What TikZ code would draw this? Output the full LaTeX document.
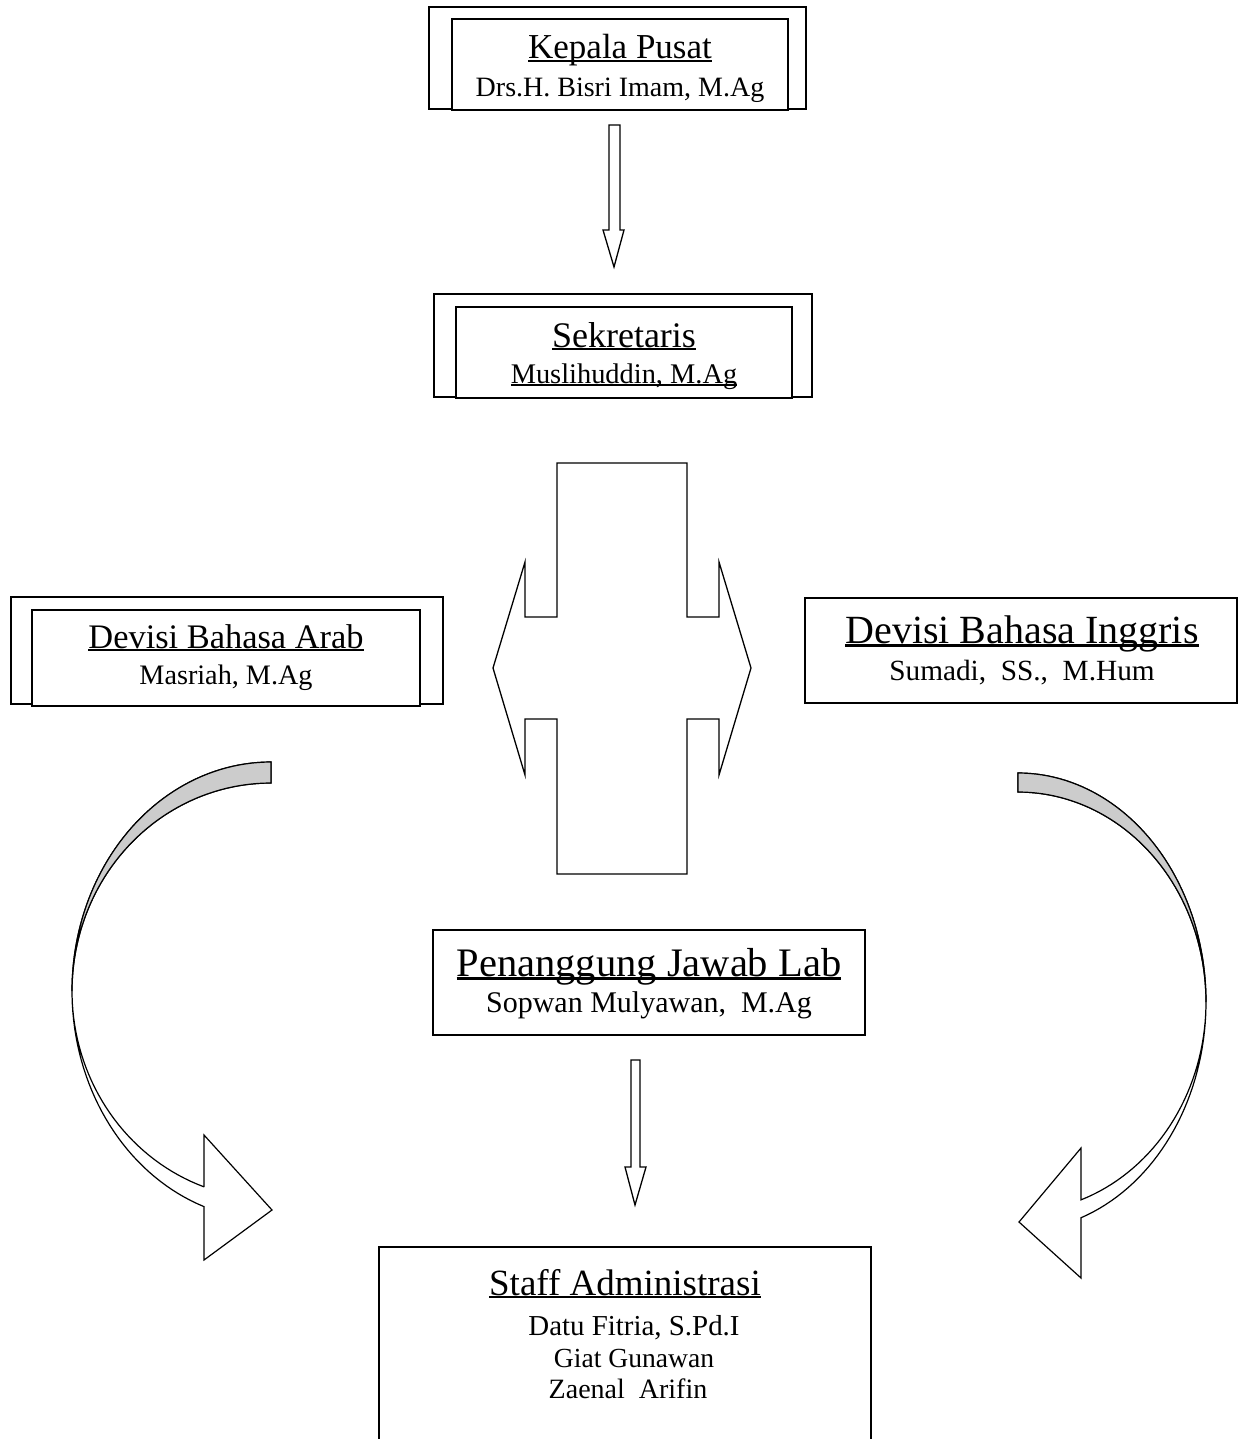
\documentclass[tikz,border=0pt]{standalone}
\usepackage{fontspec}
\setmainfont{Liberation Serif}

\tikzset{
  frame/.style={draw, line width=1.5pt, fill=white},
  blockarrow/.style={draw, line width=1.3pt, fill=white, line join=miter},
  bandline/.style={draw, line width=1.2pt, line join=miter},
  titletext/.style={anchor=base, inner sep=0pt},
  persontext/.style={anchor=base, inner sep=0pt},
}
\newcommand\ulbox[1]{\setbox0\hbox{#1}\rlap{\rule[-0.09em]{\wd0}{0.055em}}\box0}
\newcommand\fs[1]{\fontsize{#1}{#1}\selectfont}

\begin{document}
\begin{tikzpicture}[x=1pt,y=-1pt]
  \clip (0,0) rectangle (1241,1439);
  \fill[white] (0,0) rectangle (1241,1439);

  % kepala pusat
  \draw[frame] (429,7) rectangle (806,109);
  \draw[frame] (452,19) rectangle (788,110);
  \node[titletext] (kepT) at (620,59) {\fs{35}\ulbox{Kepala Pusat}};
  \node[persontext] (kepN) at (620,97) {\fs{28}Drs.H. Bisri Imam, M.Ag};

  \draw[blockarrow] (609,125) -- (620,125) -- (620,230) -- (624,230)
    -- (614,267) -- (603,230) -- (609,230) -- cycle;

  % sekretaris
  \draw[frame] (434,294) rectangle (812,397);
  \draw[frame] (456,307) rectangle (792,398);
  \node[titletext] (sekT) at (624,347) {\fs{36}\ulbox{Sekretaris}};
  \node[persontext] (sekN) at (624,383) {\fs{28.4}\ulbox{Muslihuddin, M.Ag}};

  % cross arrow
  \draw[blockarrow] (557,463) -- (687,463) -- (687,617) -- (719,617) -- (719,562)
    -- (751,668) -- (719,775) -- (719,719) -- (687,719) -- (687,874) -- (557,874)
    -- (557,719) -- (525,719) -- (525,775) -- (493,668) -- (525,562) -- (525,617)
    -- (557,617) -- cycle;

  % devisi bahasa arab
  \draw[frame] (11,597) rectangle (443,704);
  \draw[frame] (32,610) rectangle (420,706);
  \node[titletext] (arabT) at (226,648) {\fs{34.4}\ulbox{Devisi Bahasa Arab}};
  \node[persontext] (arabN) at (226,684) {\fs{28.2}Masriah, M.Ag};

  % devisi bahasa inggris
  \draw[frame] (805,598) rectangle (1237,703);
  \node[titletext] (ingT) at (1022,643) {\fs{40}\ulbox{Devisi Bahasa Inggris}};
  \node[persontext] (ingN) at (1022,680) {\fs{29.3}Sumadi,\ \ SS.,\ \ M.Hum};

  % penanggung jawab
  \draw[frame] (433,930) rectangle (865,1035);
  \node[titletext] (pjT) at (649,976) {\fs{40.5}\ulbox{Penanggung Jawab Lab}};
  \node[persontext] (pjN) at (649,1012) {\fs{30}Sopwan Mulyawan,\ \ M.Ag};

  \draw[blockarrow] (631,1060) -- (640,1060) -- (640,1167) -- (646,1167)
    -- (635,1205) -- (625,1167) -- (631,1167) -- cycle;

  % staff administrasi
  \draw[frame] (379,1247) rectangle (871,1460);
  \node[titletext] (stT) at (625,1295) {\fs{37}\ulbox{Staff Administrasi}};
  \node[persontext] (st1) at (634,1335) {\fs{28.9}Datu Fitria, S.Pd.I};
  \node[persontext] (st2) at (634,1367) {\fs{27.6}Giat Gunawan};
  \node[persontext] (st3) at (628,1398) {\fs{28}Zaenal\ \ Arifin};

  % curved arrow left
  \draw[blockarrow, line width=1.2pt]
    plot[domain=90:250.32, samples=80, variable=\t] ({271+199*cos(\t)},{991-229*sin(\t)})
    -- (204,1260) -- (272,1210) -- (204,1135) -- (204,1187)
    -- plot[domain=250.32:90, samples=80, variable=\t] ({271+199*cos(\t)},{991-208*sin(\t)})
    -- cycle;
  \fill[gray!40]
    plot[domain=90:180, samples=50, variable=\t] ({271+199*cos(\t)},{991-229*sin(\t)})
    -- plot[domain=180:90, samples=50, variable=\t] ({271+199*cos(\t)},{991-208*sin(\t)})
    -- cycle;
  \draw[bandline]
    plot[domain=180:90, samples=50, variable=\t] ({271+199*cos(\t)},{991-229*sin(\t)})
    -- plot[domain=90:180, samples=50, variable=\t] ({271+199*cos(\t)},{991-208*sin(\t)});

  % curved arrow right
  \draw[blockarrow, line width=1.2pt]
    plot[domain=90:-70.42, samples=80, variable=\t] ({1018+188*cos(\t)},{1002-229*sin(\t)})
    -- (1081,1278) -- (1019,1222) -- (1081,1148) -- (1081,1199)
    -- plot[domain=-70.42:90, samples=80, variable=\t] ({1018+188*cos(\t)},{1002-210*sin(\t)})
    -- cycle;
  \fill[gray!40]
    plot[domain=90:0, samples=50, variable=\t] ({1018+188*cos(\t)},{1002-229*sin(\t)})
    -- plot[domain=0:90, samples=50, variable=\t] ({1018+188*cos(\t)},{1002-210*sin(\t)})
    -- cycle;
  \draw[bandline]
    plot[domain=0:90, samples=50, variable=\t] ({1018+188*cos(\t)},{1002-229*sin(\t)})
    -- plot[domain=90:0, samples=50, variable=\t] ({1018+188*cos(\t)},{1002-210*sin(\t)});
\end{tikzpicture}
\end{document}
